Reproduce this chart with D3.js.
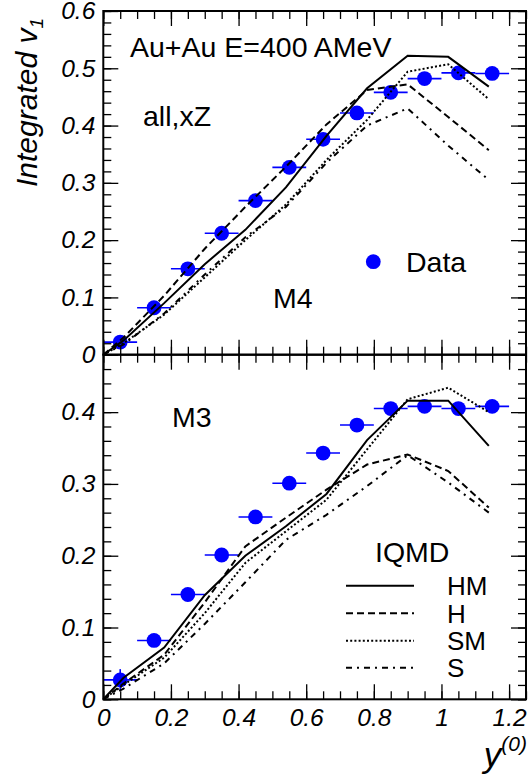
<!DOCTYPE html>
<html>
<head>
<meta charset="utf-8">
<script src="https://cdn.jsdelivr.net/npm/d3@7"></script>
<style>
  html, body { margin: 0; padding: 0; background: #fff; }
  svg { display: block; }
  text { font-family: "Liberation Sans", Arial, Helvetica, sans-serif; fill: #000; }
</style>
</head>
<body>
<svg id="chart" width="529" height="777"></svg>
<script>
// Measured rapidity bins (centres) and integrated v1
const dataRap = [0.05, 0.15, 0.25, 0.35, 0.45, 0.55, 0.65, 0.75, 0.85, 0.95, 1.05, 1.15];
const dataRapErr = 0.05;
const dataM4 = [0.022, 0.082, 0.150, 0.212, 0.269, 0.327, 0.376, 0.422, 0.458, 0.482, 0.492, 0.491];
const dataM3 = [0.027, 0.082, 0.146, 0.201, 0.254, 0.301, 0.343, 0.382, 0.405, 0.408, 0.405, 0.408];
const dataM3Err = [0.015, 0, 0, 0, 0, 0, 0, 0, 0, 0, 0, 0];

// IQMD calculations
const modelRap = [0, 0.06, 0.18, 0.30, 0.42, 0.54, 0.66, 0.78, 0.90, 1.02, 1.14];
const m4HM = [0, 0.025, 0.090, 0.158, 0.218, 0.292, 0.382, 0.465, 0.522, 0.520, 0.468];
const m4H  = [0, 0.030, 0.103, 0.185, 0.258, 0.328, 0.402, 0.462, 0.472, 0.415, 0.357];
const m4SM = [0, 0.020, 0.070, 0.135, 0.200, 0.262, 0.340, 0.410, 0.494, 0.507, 0.446];
const m4S  = [0, 0.018, 0.072, 0.140, 0.205, 0.258, 0.335, 0.400, 0.430, 0.365, 0.305];
const m3HM = [0, 0.030, 0.072, 0.145, 0.200, 0.241, 0.286, 0.361, 0.416, 0.416, 0.353];
const m3H  = [0, 0.022, 0.062, 0.135, 0.213, 0.253, 0.292, 0.327, 0.341, 0.318, 0.267];
const m3SM = [0, 0.020, 0.058, 0.120, 0.190, 0.234, 0.278, 0.348, 0.418, 0.434, 0.400];
const m3S  = [0, 0.015, 0.050, 0.105, 0.163, 0.222, 0.257, 0.297, 0.340, 0.302, 0.260];

const modelNames = ["HM", "H", "SM", "S"];
const xTicks = [0, 0.2, 0.4, 0.6, 0.8, 1, 1.2];
const yTicksTop = [0, 0.1, 0.2, 0.3, 0.4, 0.5, 0.6];
const yTicksBot = [0, 0.1, 0.2, 0.3, 0.4];

const styles = {
  HM: { dash: null },
  H:  { dash: "7,4" },
  SM: { dash: "2,2.2" },
  S:  { dash: "6,5,2,5" }
};

const svg = d3.select("#chart");
const frameL = 103.3, frameR = 526, frameT = 11, frameM = 354.7, frameB = 699.3;

const x = d3.scaleLinear().domain([0, 1.25]).range([frameL, frameR]);
const yTop = d3.scaleLinear().domain([0, 0.6]).range([frameM, frameT]);
const yBot = d3.scaleLinear().domain([0, 0.48]).range([frameB, frameM]);

const minorX = d3.range(0, 1.2501, 0.05).map(v => +v.toFixed(2));
const fmt = d3.format("~g");
const tickFont = 24.5;

function drawAxes(y, yMax, yTicks, showX) {
  const minorY = d3.range(0, yMax + 1e-9, 0.02).map(v => +v.toFixed(2));
  const g = svg.append("g");
  const y0 = y.range()[0], y1 = y.range()[1];
  const none = () => "";

  const add = (gen, tx, ty) => {
    const a = g.append("g").attr("transform", `translate(${tx},${ty})`).call(gen);
    a.select(".domain").remove();
    a.selectAll("line").attr("stroke", "#000").attr("stroke-width", 1.3);
    return a;
  };
  // minor ticks on all four sides
  add(d3.axisLeft(y).tickValues(minorY).tickSize(-8).tickFormat(none), frameL, 0);
  add(d3.axisRight(y).tickValues(minorY).tickSize(-8).tickFormat(none), frameR, 0);
  add(d3.axisBottom(x).tickValues(minorX).tickSize(-8).tickFormat(none), 0, y0);
  add(d3.axisTop(x).tickValues(minorX).tickSize(-8).tickFormat(none), 0, y1);
  // major ticks
  const yl = add(d3.axisLeft(y).tickValues(yTicks).tickSize(-15).tickPadding(8).tickFormat(fmt), frameL, 0);
  yl.selectAll("text").attr("font-size", tickFont).attr("font-style", "italic")
    .attr("font-family", "'Liberation Sans', Arial, sans-serif").attr("fill", "#000");
  add(d3.axisRight(y).tickValues(yTicks).tickSize(-15).tickFormat(none), frameR, 0);
  const xb = add(d3.axisBottom(x).tickValues(xTicks).tickSize(-15).tickPadding(9)
    .tickFormat(showX ? fmt : none), 0, y0);
  xb.selectAll("text").attr("font-size", tickFont).attr("font-style", "italic")
    .attr("font-family", "'Liberation Sans', Arial, sans-serif").attr("fill", "#000");
  add(d3.axisTop(x).tickValues(xTicks).tickSize(-15).tickFormat(none), 0, y1);

  // frame
  g.append("rect").attr("x", frameL).attr("y", y1).attr("width", frameR - frameL).attr("height", y0 - y1)
    .attr("fill", "none").attr("stroke", "#000").attr("stroke-width", 2);
}

function drawPanel(y, values, errs, curves) {
  const g = svg.append("g");
  // data: horizontal bin-width bars, vertical errors, markers
  dataRap.forEach((r, i) => {
    g.append("line").attr("x1", x(r - dataRapErr)).attr("x2", x(r + dataRapErr))
      .attr("y1", y(values[i])).attr("y2", y(values[i]))
      .attr("stroke", "#0000ff").attr("stroke-width", 1.6);
    if (errs && errs[i] > 0) {
      g.append("line").attr("x1", x(r)).attr("x2", x(r))
        .attr("y1", y(values[i] - errs[i])).attr("y2", y(values[i] + errs[i]))
        .attr("stroke", "#0000ff").attr("stroke-width", 1.6);
    }
  });
  g.selectAll("circle.pt").data(dataRap).join("circle").attr("class", "pt")
    .attr("cx", d => x(d)).attr("cy", (d, i) => y(values[i])).attr("r", 7.4)
    .attr("fill", "#0000ff");

  const line = d3.line().x(d => x(d[0])).y(d => y(d[1]));
  modelNames.forEach((name, k) => {
    const pts = modelRap.map((r, i) => [r, curves[k][i]]);
    g.append("path").attr("d", line(pts)).attr("fill", "none")
      .attr("stroke", "#000").attr("stroke-width", 2)
      .attr("stroke-dasharray", styles[name].dash);
  });
}

drawPanel(yTop, dataM4, null, [m4HM, m4H, m4SM, m4S]);
drawPanel(yBot, dataM3, dataM3Err, [m3HM, m3H, m3SM, m3S]);
drawAxes(yTop, 0.6, yTicksTop, false);
drawAxes(yBot, 0.48, yTicksBot, true);

// annotations
const labelFont = 28.5;
const txt = (s, tx, ty, size) =>
  svg.append("text").attr("x", tx).attr("y", ty).attr("font-size", size).text(s);

txt("Au+Au E=400 AMeV", 130, 57, labelFont);
txt("all,xZ", 143, 126, labelFont);
txt("M4", 273, 308, labelFont);
txt("M3", 172, 427, labelFont);

// data legend
svg.append("circle").attr("cx", 373.3).attr("cy", 261.7).attr("r", 7.4).attr("fill", "#0000ff");
txt("Data", 406, 272, labelFont);

// model legend
txt("IQMD", 375, 562, labelFont);
const legY = [585.7, 613.3, 640.7, 667.7];
modelNames.forEach((name, k) => {
  svg.append("line").attr("x1", 346).attr("x2", 414).attr("y1", legY[k]).attr("y2", legY[k])
    .attr("stroke", "#000").attr("stroke-width", 2).attr("stroke-dasharray", styles[name].dash);
  txt(name, 447, legY[k] + 9.5, 26);
});

// axis titles
const yt = svg.append("text")
  .attr("transform", "translate(37,18) rotate(-90)")
  .attr("text-anchor", "end").attr("font-size", 30).attr("font-style", "italic");
yt.append("tspan").text("Integrated v");
yt.append("tspan").attr("font-size", 19).attr("dy", 6).text("1");

const xt = svg.append("text").attr("x", 527).attr("y", 767)
  .attr("text-anchor", "end").attr("font-style", "italic");
xt.append("tspan").attr("font-size", 35).text("y");
xt.append("tspan").attr("font-size", 21).attr("dy", -16).text("(0)");
</script>
</body>
</html>
